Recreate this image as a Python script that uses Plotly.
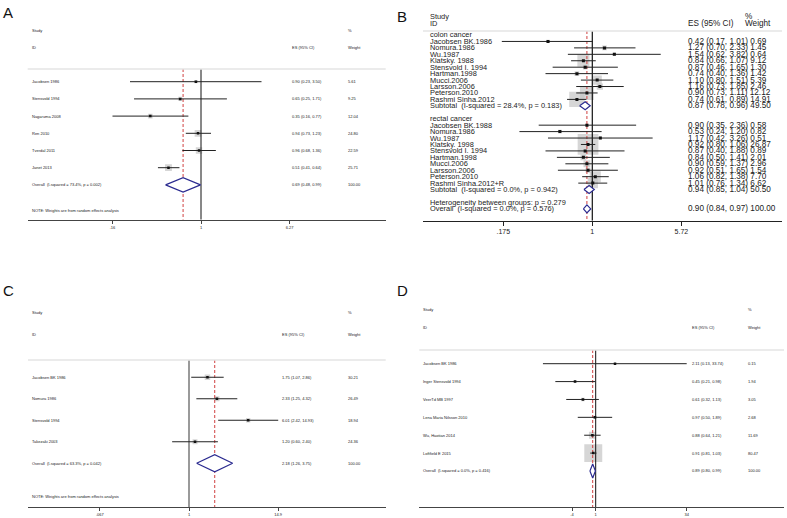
import math
import plotly.graph_objects as go

W, H = 787, 518

# ---------------- data ----------------
# Panel A
a_studies = ["Jacobsen 1986", "Stensvold 1994", "Nagaruma 2008", "Ren 2010", "Tverdal 2011", "Janet 2013"]
a_es = [0.90, 0.65, 0.35, 0.94, 0.96, 0.51]
a_lo = [0.23, 0.25, 0.16, 0.73, 0.68, 0.41]
a_hi = [3.50, 1.71, 0.77, 1.23, 1.36, 0.64]
a_wt = [5.61, 9.25, 12.04, 24.80, 22.59, 25.71]
a_overall_label = "Overall  (I-squared = 73.4%, p = 0.002)"
a_overall = [0.69, 0.48, 0.99, 100.00]
a_tickvals = [0.16, 1, 6.27]
a_ticktext = [".16", "1", "6.27"]

# Panel B
b_colon_studies = ["Jacobsen BK.1986", "Nomura.1986", "Wu.1987", "Klatsky. 1988", "Stensvold I. 1994",
                   "Hartman.1998", "Mucci.2006", "Larsson.2006", "Peterson.2010", "Rashmi Sinha.2012"]
b_colon_es = [0.42, 1.27, 1.54, 0.84, 0.87, 0.74, 1.10, 1.16, 0.90, 0.74]
b_colon_lo = [0.17, 0.70, 0.62, 0.66, 0.46, 0.40, 0.80, 0.73, 0.73, 0.61]
b_colon_hi = [1.01, 2.33, 3.82, 1.07, 1.65, 1.36, 1.51, 1.85, 1.11, 0.89]
b_colon_wt = [0.69, 1.45, 0.64, 9.12, 1.30, 1.42, 5.39, 2.46, 12.12, 14.91]
b_colon_sub_label = "Subtotal  (I-squared = 28.4%, p = 0.183)"
b_colon_sub = [0.87, 0.78, 0.96, 49.50]

b_rectal_studies = ["Jacobsen BK.1988", "Nomura.1986", "Wu.1987", "Klatsky. 1998", "Stensvold I. 1994",
                    "Hartman.1998", "Mucci.2006", "Larsson.2006", "Peterson.2010", "Rashmi Sinha.2012+R"]
b_rectal_es = [0.90, 0.53, 1.17, 0.92, 0.87, 0.84, 0.90, 0.92, 1.06, 1.01]
b_rectal_lo = [0.35, 0.24, 0.42, 0.80, 0.40, 0.50, 0.59, 0.51, 0.82, 0.76]
b_rectal_hi = [2.36, 1.20, 3.26, 1.06, 1.88, 1.41, 1.37, 1.65, 1.38, 1.34]
b_rectal_wt = [0.58, 0.82, 0.51, 26.87, 0.89, 2.01, 2.96, 1.54, 7.70, 6.62]
b_rectal_sub_label = "Subtotal  (I-squared = 0.0%, p = 0.942)"
b_rectal_sub = [0.94, 0.85, 1.04, 50.50]
b_het_label = "Heterogeneity between groups: p = 0.279"
b_overall_label = "Overall  (I-squared = 0.0%, p = 0.576)"
b_overall = [0.90, 0.84, 0.97, 100.00]
b_tickvals = [0.175, 1, 5.72]
b_ticktext = [".175", "1", "5.72"]

# Panel C
c_studies = ["Jacobsen BK 1986", "Nomura 1986", "Stensvold 1994", "Takezaki 2003"]
c_es = [1.75, 2.33, 6.01, 1.20]
c_lo = [1.07, 1.25, 2.42, 0.60]
c_hi = [2.86, 4.32, 14.93, 2.40]
c_wt = [30.21, 26.49, 18.94, 24.36]
c_overall_label = "Overall  (I-squared = 63.3%, p = 0.042)"
c_overall = [2.18, 1.26, 3.75, 100.00]
c_tickvals = [0.067, 1, 14.9]
c_ticktext = [".067", "1", "14.9"]

# Panel D
d_studies = ["Jacobsen BK 1986", "Inger Stensvold 1994", "VeerTd MB 1997", "Lena Maria Nilsson 2010",
             "Wu, Haotian 2014", "Loftfield E 2015"]
d_es = [2.11, 0.45, 0.61, 0.97, 0.88, 0.91]
d_lo = [0.13, 0.21, 0.32, 0.50, 0.64, 0.81]
d_hi = [33.74, 0.98, 1.13, 1.89, 1.21, 1.03]
d_wt = [0.15, 1.94, 3.05, 2.68, 11.69, 80.47]
d_overall_label = "Overall  (I-squared = 0.0%, p = 0.416)"
d_overall = [0.89, 0.80, 0.99, 100.00]
d_tickvals = [0.4, 1, 33.74]
d_ticktext = [".4", "1", "34"]

note_text = "NOTE: Weights are from random effects analysis"

FONT = "Liberation Sans, Arial, Helvetica, sans-serif"


def px(x):
    return x / W


def py(y):
    return 1 - y / H


def fmt_ci(es, lo, hi):
    return f"{es:.2f} ({lo:.2f}, {hi:.2f})"


fig = go.Figure()
annotations = []
shapes = []
layout_axes = {}


def add_panel(n, letter, letter_pos, geo, rows, tickvals, ticktext, overall_es):
    xs = "x" if n == 1 else f"x{n}"
    ys = "y" if n == 1 else f"y{n}"
    xa = "xaxis" if n == 1 else f"xaxis{n}"
    ya = "yaxis" if n == 1 else f"yaxis{n}"
    ln10 = math.log(10)
    xr = [(geo["left"] - geo["one"]) / geo["k"] / ln10, (geo["right"] - geo["one"]) / geo["k"] / ln10]
    yr = [(geo["axis"] - geo["y0"]) / geo["step"], (geo["top"] - geo["y0"]) / geo["step"]]
    sep_row = (geo["sep"] - geo["y0"]) / geo["step"]
    axis_row = yr[0]
    layout_axes[xa] = dict(
        type="log", domain=[px(geo["left"]), px(geo["right"])], range=xr, anchor=ys,
        showline=True, linecolor=geo["axcol"], linewidth=1, ticks="outside", ticklen=geo["ticklen"],
        tickcolor=geo["axcol"], tickwidth=1, tickvals=tickvals, ticktext=ticktext,
        tickfont=dict(size=geo["tickfs"], family=FONT, color="#222"), showgrid=False, zeroline=False,
        fixedrange=True,
    )
    layout_axes[ya] = dict(domain=[py(geo["axis"]), py(geo["top"])], range=yr, anchor=xs, visible=False,
                           fixedrange=True)

    bx, by, bs = [], [], []
    cx, cy = [], []
    ptx, pty = [], []
    for r in rows:
        if r["kind"] == "study":
            bx.append(r["es"]); by.append(r["row"]); bs.append(max(geo["bk"] * math.sqrt(r["wt"]), 1))
            cx += [r["lo"], r["hi"], None]; cy += [r["row"], r["row"], None]
            ptx.append(r["es"]); pty.append(r["row"])
    fig.add_trace(go.Scatter(x=bx, y=by, xaxis=xs, yaxis=ys, mode="markers", hoverinfo="skip",
                             marker=dict(symbol="square", size=bs, color="#c4c4c4", line=dict(width=0))))
    fig.add_trace(go.Scatter(x=[1, 1], y=[sep_row, axis_row], xaxis=xs, yaxis=ys, mode="lines",
                             hoverinfo="skip", line=dict(color=geo["vcol"], width=geo["vw"])))
    fig.add_trace(go.Scatter(x=[overall_es, overall_es], y=[sep_row, axis_row], xaxis=xs, yaxis=ys,
                             mode="lines", hoverinfo="skip",
                             line=dict(color="#d04040", width=1, dash="3px,2px")))
    fig.add_trace(go.Scatter(x=cx, y=cy, xaxis=xs, yaxis=ys, mode="lines", hoverinfo="skip",
                             line=dict(color="#222", width=geo["ciw"])))
    fig.add_trace(go.Scatter(x=ptx, y=pty, xaxis=xs, yaxis=ys, mode="markers", hoverinfo="skip",
                             marker=dict(symbol="square", size=geo["pts"], color="#111")))
    for r in rows:
        if r["kind"] == "summary":
            h = geo["dh"]
            fig.add_trace(go.Scatter(
                x=[r["lo"], r["es"], r["hi"], r["es"], r["lo"]],
                y=[r["row"], r["row"] - h, r["row"], r["row"] + h, r["row"]],
                xaxis=xs, yaxis=ys, mode="lines", fill="toself", fillcolor="white", hoverinfo="skip",
                line=dict(color="#2b2b90", width=1.2)))

    shapes.append(dict(type="line", xref="paper", yref="paper", x0=px(geo["left"]), x1=px(geo["right"]),
                       y0=py(geo["sep"]), y1=py(geo["sep"]), line=dict(color="#e4e4e4", width=1.5)))

    fs = geo["fs"]
    efs = geo.get("efs", fs)

    def txt(x, row, s, size):
        annotations.append(dict(x=px(x), y=row, xref="paper", yref=ys, text=s, showarrow=False,
                                xanchor="left", yanchor="middle", borderpad=0,
                                font=dict(size=size, family=FONT, color="#222")))

    txt(geo["name_x"], geo["h1"], "Study", fs)
    txt(geo["name_x"], geo["h2"], "ID", fs)
    txt(geo["es_x"], geo["h2"], "ES (95% CI)", efs)
    txt(geo["wt_x"], geo["h1"], "%", efs)
    txt(geo["wt_x"], geo["h2"], "Weight", efs)

    for r in rows:
        txt(geo["name_x"], r["row"], r["label"], fs)
        if r["kind"] in ("study", "summary"):
            ci = fmt_ci(r["es"], r["lo"], r["hi"])
            wt = f"{r['wt']:.2f}"
            if geo.get("combined"):
                txt(geo["es_x"], r["row"], ci + " " + wt, efs)
            else:
                txt(geo["es_x"], r["row"], ci, efs)
                txt(geo["wt_x"], r["row"], wt, efs)

    annotations.append(dict(x=px(letter_pos[0]), y=py(letter_pos[1]), xref="paper", yref="paper",
                            text=letter, showarrow=False, xanchor="left", yanchor="top", borderpad=0,
                            font=dict(size=15, family=FONT, color="#111")))


def simple_rows(studies, es, lo, hi, wt, overall_label, overall, note_row):
    rows = []
    for i, s in enumerate(studies):
        rows.append(dict(kind="study", row=i, label=s, es=es[i], lo=lo[i], hi=hi[i], wt=wt[i]))
    rows.append(dict(kind="summary", row=len(studies), label=overall_label, es=overall[0], lo=overall[1],
                     hi=overall[2], wt=overall[3]))
    if note_row is not None:
        rows.append(dict(kind="text", row=note_row, label=note_text))
    return rows


# ---- Panel A ----
geoA = dict(left=27.7, right=385.7, one=201, k=48.3, y0=81.7, step=17.2, top=18, axis=219.7, sep=69,
            name_x=31, es_x=291, wt_x=346.7, h1=(30.7 - 81.7) / 17.2, h2=(47.7 - 81.7) / 17.2,
            fs=4, tickfs=4, ticklen=3, axcol="#444", vcol="#111", vw=1, ciw=1, bk=1.35, pts=2.5, dh=0.42)
rowsA = simple_rows(a_studies, a_es, a_lo, a_hi, a_wt, a_overall_label, a_overall, (210.7 - 81.7) / 17.2)
add_panel(1, "A", (2, 3), geoA, rowsA, a_tickvals, a_ticktext, a_overall[0])

# ---- Panel B ----
rowsB = [dict(kind="text", row=0, label="colon cancer")]
for i, s in enumerate(b_colon_studies):
    rowsB.append(dict(kind="study", row=1 + i, label=s, es=b_colon_es[i], lo=b_colon_lo[i],
                      hi=b_colon_hi[i], wt=b_colon_wt[i]))
rowsB.append(dict(kind="summary", row=11, label=b_colon_sub_label, es=b_colon_sub[0], lo=b_colon_sub[1],
                  hi=b_colon_sub[2], wt=b_colon_sub[3]))
rowsB.append(dict(kind="text", row=13, label="rectal cancer"))
for i, s in enumerate(b_rectal_studies):
    rowsB.append(dict(kind="study", row=14 + i, label=s, es=b_rectal_es[i], lo=b_rectal_lo[i],
                      hi=b_rectal_hi[i], wt=b_rectal_wt[i]))
rowsB.append(dict(kind="summary", row=24, label=b_rectal_sub_label, es=b_rectal_sub[0], lo=b_rectal_sub[1],
                  hi=b_rectal_sub[2], wt=b_rectal_sub[3]))
rowsB.append(dict(kind="text", row=26, label=b_het_label))
rowsB.append(dict(kind="summary", row=27, label=b_overall_label, es=b_overall[0], lo=b_overall[1],
                  hi=b_overall[2], wt=b_overall[3]))
geoB = dict(left=423, right=782, one=592.3, k=51.06, y0=35, step=6.44, top=8, axis=220.7, sep=31,
            name_x=429.3, es_x=687, wt_x=744, h1=(17 - 35) / 6.44, h2=(23.5 - 35) / 6.44,
            fs=7.4, efs=8.2, tickfs=7, ticklen=4, axcol="#222", vcol="#111", vw=1.2, ciw=1, bk=4.0, pts=3,
            dh=0.62, combined=True)
add_panel(2, "B", (396, 7), geoB, rowsB, b_tickvals, b_ticktext, b_overall[0])

# ---- Panel C ----
geoC = dict(left=28, right=385.7, one=189, k=33.0, y0=377.3, step=21.5, top=290, axis=507.3, sep=360,
            name_x=31, es_x=281, wt_x=346.7, h1=(312.7 - 377.3) / 21.5, h2=(334.7 - 377.3) / 21.5,
            fs=4, tickfs=4, ticklen=3, axcol="#444", vcol="#9a9a9a", vw=2, ciw=1.1, bk=1.0, pts=2.5, dh=0.4)
rowsC = simple_rows(c_studies, c_es, c_lo, c_hi, c_wt, c_overall_label, c_overall, (496.7 - 377.3) / 21.5)
add_panel(3, "C", (2, 281), geoC, rowsC, c_tickvals, c_ticktext, c_overall[0])

# ---- Panel D ----
geoD = dict(left=419.3, right=784, one=595.7, k=25.86, y0=363.7, step=17.88, top=290, axis=507.3, sep=350,
            name_x=422, es_x=690.7, wt_x=746.7, h1=(309.3 - 363.7) / 17.88, h2=(327.3 - 363.7) / 17.88,
            fs=4, tickfs=4, ticklen=3, axcol="#444", vcol="#111", vw=1, ciw=1, bk=2.0, pts=2.5, dh=0.39)
rowsD = simple_rows(d_studies, d_es, d_lo, d_hi, d_wt, d_overall_label, d_overall, None)
add_panel(4, "D", (396, 281), geoD, rowsD, d_tickvals, d_ticktext, d_overall[0])

fig.update_layout(
    width=W, height=H, margin=dict(l=0, r=0, t=0, b=0), showlegend=False,
    paper_bgcolor="white", plot_bgcolor="white", hovermode=False,
    annotations=annotations, shapes=shapes, **layout_axes,
)
fig.write_html(
    "out.html",
    config={"displayModeBar": False, "staticPlot": True},
    post_script="document.body.style.margin='0';document.body.style.padding='0';"
                "document.body.style.overflow='hidden';",
)
